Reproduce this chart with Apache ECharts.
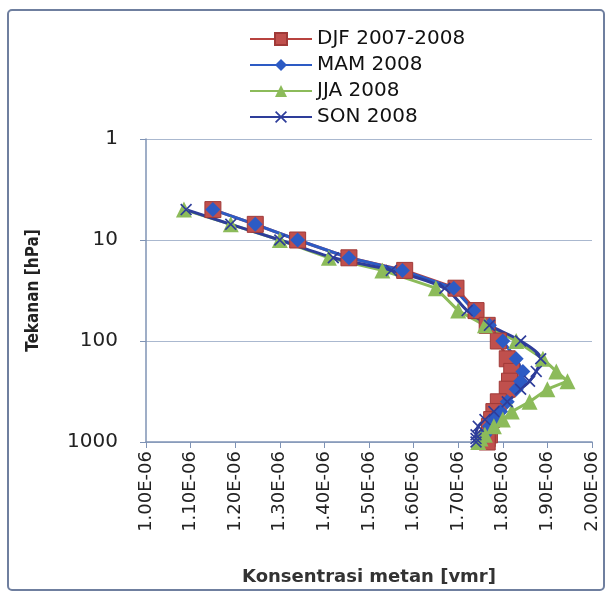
<!DOCTYPE html>
<html>
<head>
<meta charset="utf-8">
<script src="https://cdn.jsdelivr.net/npm/echarts@6/dist/echarts.min.js"></script>
<style>
  html, body { margin: 0; padding: 0; background: #fff; }
  #chart { width: 608px; height: 594px; }
</style>
</head>
<body>
<div id="chart"></div>
<script>
// tekanan (hPa), shared by every season
const pressure = [5, 7, 10, 15, 20, 30, 50, 70, 100, 150, 200, 250, 300, 400, 500, 600, 700, 850, 925, 1000];
// konsentrasi metan in units of 1E-06 vmr
const djf = [1.15, 1.245, 1.34, 1.455, 1.58, 1.695, 1.74, 1.765, 1.79, 1.81, 1.82, 1.815, 1.81, 1.79, 1.78, 1.775, 1.77, 1.77, 1.765, 1.765];
const mam = [1.15, 1.245, 1.34, 1.455, 1.575, 1.69, 1.735, 1.77, 1.80, 1.83, 1.845, 1.84, 1.83, 1.81, 1.795, 1.78, 1.77, 1.76, 1.755, 1.75];
const jja = [1.085, 1.19, 1.30, 1.41, 1.53, 1.65, 1.70, 1.76, 1.83, 1.89, 1.92, 1.945, 1.90, 1.86, 1.82, 1.80, 1.78, 1.76, 1.75, 1.745];
const son = [1.09, 1.19, 1.30, 1.42, 1.55, 1.67, 1.72, 1.77, 1.84, 1.885, 1.875, 1.86, 1.84, 1.81, 1.78, 1.76, 1.745, 1.74, 1.74, 1.74];
const seasonNames = ['DJF 2007-2008', 'MAM 2008', 'JJA 2008', 'SON 2008'];
const xTicks = [1.0, 2.0, 0.1]; // min, max, step

const pairs = vals => vals.map((v, i) => [v, pressure[i]]);
const crossPath = 'path://M0,1L1,0L5,4L9,0L10,1L6,5L10,9L9,10L5,6L1,10L0,9L4,5Z';

const chart = echarts.init(document.getElementById('chart'));

const option = {
  animation: false,
  backgroundColor: '#fff',
  graphic: [{
    type: 'rect',
    shape: { x: 8, y: 10, width: 596, height: 580, r: 4 },
    style: { fill: 'none', stroke: '#6f7f9f', lineWidth: 2 },
    silent: true
  }],
  legend: {
    orient: 'vertical',
    left: 244,
    top: 24,
    itemWidth: 62,
    itemHeight: 15,
    itemGap: 6,
    data: seasonNames,
    textStyle: { fontFamily: 'DejaVu Sans', fontSize: 20, color: '#111' }
  },
  grid: { left: 146, right: 16, top: 139, bottom: 152 },
  xAxis: {
    type: 'value',
    min: xTicks[0],
    max: xTicks[1],
    interval: xTicks[2],
    name: 'Konsentrasi metan [vmr]',
    nameLocation: 'middle',
    nameGap: 126,
    nameTextStyle: { fontFamily: 'DejaVu Sans', fontWeight: 'bold', fontSize: 18, color: '#333' },
    axisLine: { onZero: false, lineStyle: { color: '#7f93b5', width: 1.5 } },
    axisTick: { show: true, length: 6, lineStyle: { color: '#7f93b5' } },
    splitLine: { show: false },
    axisLabel: {
      rotate: 90,
      margin: 9,
      fontFamily: 'DejaVu Sans',
      fontSize: 18,
      color: '#222',
      formatter: v => v.toFixed(2) + 'E-06'
    }
  },
  yAxis: {
    type: 'log',
    logBase: 10,
    min: 1,
    max: 1000,
    inverse: true,
    name: 'Tekanan [hPa]',
    nameLocation: 'middle',
    nameGap: 104,
    nameTextStyle: {
      fontFamily: "'DejaVu Sans Condensed', 'Liberation Sans', sans-serif",
      fontWeight: 'bold', fontSize: 17, color: '#222'
    },
    axisLine: { lineStyle: { color: '#7f93b5', width: 1.5 } },
    axisTick: { show: true, length: 6, lineStyle: { color: '#7f93b5' } },
    splitLine: { show: true, lineStyle: { color: '#aab8cf', width: 1 } },
    axisLabel: {
      fontFamily: 'DejaVu Sans', fontSize: 20, color: '#222', margin: 28,
      formatter: v => String(Math.round(v))
    }
  },
  series: [
    {
      name: seasonNames[0], type: 'line', data: pairs(djf),
      symbol: 'rect', symbolSize: 16,
      lineStyle: { color: '#b8433f', width: 3 },
      itemStyle: { color: '#c0504d', borderColor: '#a03a38', borderWidth: 1 }
    },
    {
      name: seasonNames[1], type: 'line', data: pairs(mam),
      symbol: 'diamond', symbolSize: 15,
      lineStyle: { color: '#2d5bc4', width: 3 },
      itemStyle: { color: '#2d5bc4' }
    },
    {
      name: seasonNames[2], type: 'line', data: pairs(jja),
      symbol: 'triangle', symbolSize: 16,
      lineStyle: { color: '#8cbb5a', width: 3 },
      itemStyle: { color: '#8cbb5a' }
    },
    {
      name: seasonNames[3], type: 'line', data: pairs(son),
      symbol: crossPath, symbolSize: 12, smooth: 0.3,
      lineStyle: { color: '#2e3d9a', width: 3 },
      itemStyle: { color: '#2e3d9a' }
    }
  ]
};

chart.setOption(option);
</script>
</body>
</html>
